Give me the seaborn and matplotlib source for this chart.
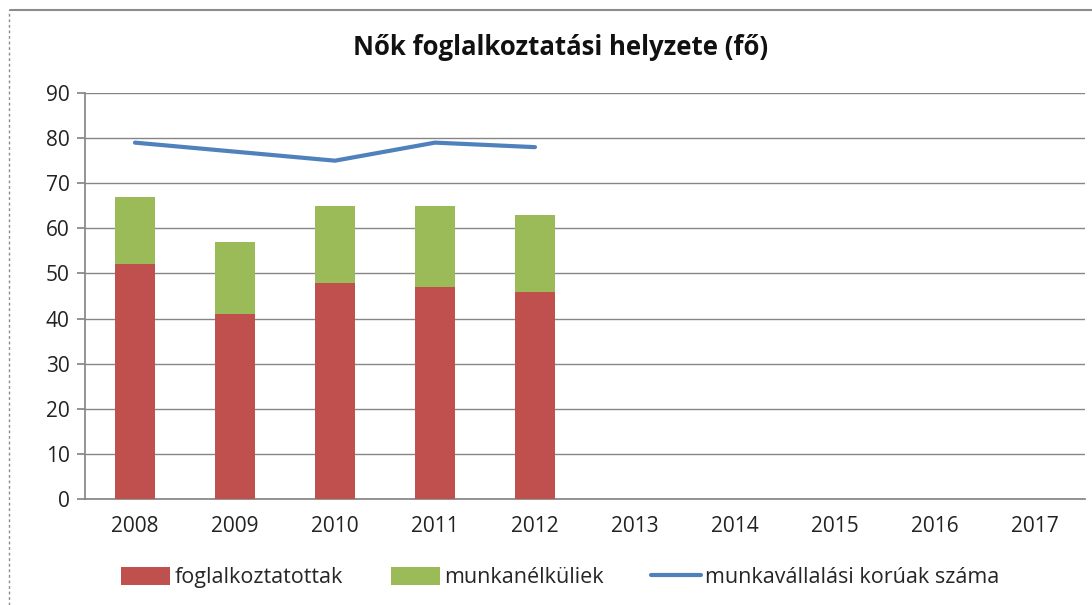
import numpy as np
import pandas as pd
import matplotlib
matplotlib.use('Agg')
import matplotlib.pyplot as plt
from matplotlib.lines import Line2D
from matplotlib.patches import Patch
import seaborn as sns

years = ['2008', '2009', '2010', '2011', '2012', '2013', '2014', '2015', '2016', '2017']
foglalkoztatottak = [52, 41, 48, 47, 46, np.nan, np.nan, np.nan, np.nan, np.nan]
munkanelkuliek = [15, 16, 17, 18, 17, np.nan, np.nan, np.nan, np.nan, np.nan]
munkavallalasi = [79, 77, 75, 79, 78, np.nan, np.nan, np.nan, np.nan, np.nan]

c_red = '#C0504D'
c_green = '#9BBB59'
c_blue = '#4F81BD'
grid_c = '#868686'

sns.set_theme(style='white')
plt.rcParams['font.family'] = ['Open Sans', 'DejaVu Sans']

df = pd.DataFrame({
    'year': years,
    'fogl': foglalkoztatottak,
    'munk': munkanelkuliek,
    'total': np.array(foglalkoztatottak) + np.array(munkanelkuliek),
    'kor': munkavallalasi,
})

fig = plt.figure(figsize=(10.92, 6.05), dpi=100)
ax = fig.add_axes([0.0778, 0.175, 0.9158, 0.6713])

# stacked bars: total in green, then red part over it
sns.barplot(data=df, x='year', y='total', order=years, color=c_green,
            width=0.4, saturation=1, linewidth=0, ax=ax, zorder=3)
sns.barplot(data=df, x='year', y='fogl', order=years, color=c_red,
            width=0.4, saturation=1, linewidth=0, ax=ax, zorder=4)
sns.lineplot(x=np.arange(len(years)), y=df['kor'], color=c_blue, linewidth=3,
             ax=ax, zorder=5)

ax.set_xlim(-0.5, len(years) - 0.5)
ax.set_ylim(0, 90)
ax.set_yticks(np.arange(0, 91, 10))
ax.set_xlabel('')
ax.set_ylabel('')
ax.yaxis.grid(True, color=grid_c, linewidth=1)
ax.set_axisbelow(True)
for s in ['top', 'right']:
    ax.spines[s].set_visible(False)
ax.spines['left'].set_color(grid_c)
ax.spines['bottom'].set_color(grid_c)

# x tick marks between categories, labels centered
ax.set_xticks(np.arange(len(years)))
ax.set_xticklabels(years)
ax.tick_params(axis='x', length=0, labelsize=15, pad=12, colors='#222222')
ax.set_xticks(np.arange(-0.5, len(years), 1), minor=True)
ax.tick_params(axis='x', which='minor', length=6, color=grid_c, direction='out')
ax.tick_params(axis='y', length=6, color=grid_c, direction='out', labelsize=15,
               pad=5, colors='#222222', left=True)

fig.text(0.513, 0.922, 'Nők foglalkoztatási helyzete (fő)', ha='center', va='center',
         fontsize=18.5, fontweight='bold', color='#111111')

handles = [Patch(facecolor=c_red, edgecolor='none'),
           Patch(facecolor=c_green, edgecolor='none'),
           Line2D([0], [0], color=c_blue, linewidth=3)]
labels = ['foglalkoztatottak', 'munkanélküliek', 'munkavállalási korúak száma']
fig.legend(handles, labels, loc='center', bbox_to_anchor=(0.513, 0.045), ncol=3,
           frameon=False, fontsize=15.5, handlelength=2.3, handleheight=0.9,
           handletextpad=0.2, columnspacing=2.2)

# outer chart border
fig.add_artist(Line2D([10 / 1092, 1], [1 - 10 / 605, 1 - 10 / 605], color='#8c8c8c',
                      linewidth=1.5, transform=fig.transFigure))
fig.add_artist(Line2D([9 / 1092, 9 / 1092], [0, 1 - 10 / 605], color='#8c8c8c',
                      linewidth=1, linestyle=(0, (2, 2)), transform=fig.transFigure))

fig.savefig('out.png', dpi=100)
